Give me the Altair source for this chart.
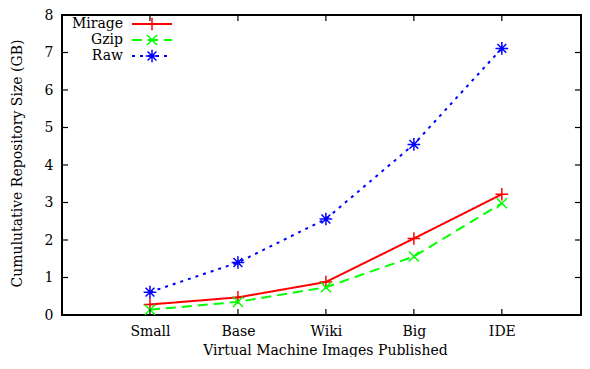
import altair as alt
import pandas as pd

categories = ["Small", "Base", "Wiki", "Big", "IDE"]
series_names = ["Mirage", "Gzip", "Raw"]
mirage = [0.28, 0.47, 0.88, 2.04, 3.22]
gzip = [0.14, 0.35, 0.74, 1.56, 2.98]
raw = [0.61, 1.40, 2.56, 4.55, 7.11]
y_ticks = [0, 1, 2, 3, 4, 5, 6, 7, 8]

colors = ["#ff0000", "#00ff00", "#0000ff"]
dashes = [[1, 0], [10, 6], [3, 5]]
shapes = [
    "M-1,0H1M0,-1V1",
    "M-0.8,-0.8L0.8,0.8M-0.8,0.8L0.8,-0.8",
    "M-1,0H1M0,-1V1M-0.7,-0.7L0.7,0.7M-0.7,0.7L0.7,-0.7",
]

W, H = 519, 300
FONT = "DejaVu Serif"

rows = []
for name, vals in zip(series_names, [mirage, gzip, raw]):
    for i, (c, v) in enumerate(zip(categories, vals)):
        rows.append({"series": name, "cat": c, "idx": i + 1, "value": v})
df = pd.DataFrame(rows)

label_arr = "[''," + ",".join("'%s'" % c for c in categories) + "]"

color = alt.Color("series:N", scale=alt.Scale(domain=series_names, range=colors), legend=None)
dash = alt.StrokeDash("series:N", scale=alt.Scale(domain=series_names, range=dashes), legend=None)
shape = alt.Shape("series:N", scale=alt.Scale(domain=series_names, range=shapes), legend=None)

xenc = alt.X(
    "idx:Q",
    scale=alt.Scale(domain=[0, 5.9], nice=False, zero=False),
    axis=alt.Axis(
        values=[1, 2, 3, 4, 5],
        labelExpr=label_arr + "[datum.value]",
        title="Virtual Machine Images Published",
        labelPadding=9,
        titleX=263,
        titleY=39,
        titleBaseline="alphabetic",
    ),
)
yenc = alt.Y(
    "value:Q",
    scale=alt.Scale(domain=[0, 8], nice=False),
    axis=alt.Axis(
        values=y_ticks,
        tickCount=9,
        title="Cumulutative Repository Size (GB)",
        labelPadding=9,
        titleX=-45,
        titleY=148,
        titleAngle=-90,
        titleBaseline="middle",
    ),
)

base = alt.Chart(df)
lines = base.mark_line(strokeWidth=2).encode(x=xenc, y=yenc, color=color, strokeDash=dash, detail="series:N")
points = base.mark_point(filled=False, strokeWidth=1.5, size=160, opacity=1).encode(
    x=xenc, y=yenc, color=color, shape=shape
)

ytick_df = pd.DataFrame({"value": y_ticks})
xtick_df = pd.DataFrame({"idx": list(range(1, len(categories) + 1))})
tick_style = dict(color="black", strokeWidth=1.2)
lt = alt.Chart(ytick_df).mark_rule(**tick_style).encode(y=yenc, x=alt.value(0), x2=alt.value(6))
rt = alt.Chart(ytick_df).mark_rule(**tick_style).encode(y=yenc, x=alt.value(W - 6), x2=alt.value(W))
bt = alt.Chart(xtick_df).mark_rule(**tick_style).encode(x=xenc, y=alt.value(H), y2=alt.value(H - 6))
tt = alt.Chart(xtick_df).mark_rule(**tick_style).encode(x=xenc, y=alt.value(0), y2=alt.value(6))

leg_df = pd.DataFrame({"series": series_names, "row": list(range(len(series_names)))})
leg = alt.Chart(leg_df).transform_calculate(ypx="9 + 16 * datum.row")
leg_y = alt.Y("ypx:Q", scale=None, axis=None)
leg_text = leg.mark_text(align="right", baseline="middle", font=FONT, fontSize=14, color="black").encode(
    x=alt.value(61), y=leg_y, text="series:N"
)
leg_line = leg.mark_rule(strokeWidth=2).encode(
    x=alt.value(70), x2=alt.value(110), y=leg_y, color=color, strokeDash=dash
)
leg_pt = leg.mark_point(filled=False, strokeWidth=1.5, size=160, opacity=1).encode(
    x=alt.value(90), y=leg_y, color=color, shape=shape
)

chart = (
    alt.layer(lines, points, lt, rt, bt, tt, leg_line, leg_pt, leg_text)
    .properties(
        width=W,
        height=H,
        padding={"left": 54, "top": 7, "right": 1, "bottom": 42},
        autosize=alt.AutoSizeParams(type="none"),
        background="white",
    )
    .configure_view(stroke="black", strokeWidth=2)
    .configure_axis(
        grid=False,
        domain=False,
        ticks=False,
        labelFont=FONT,
        titleFont=FONT,
        labelFontSize=14,
        titleFontSize=14,
        titleFontWeight="normal",
        labelColor="black",
        titleColor="black",
        labelOverlap=False,
    )
)

chart.save("out.html", embed_options={"renderer": "svg", "actions": False})
